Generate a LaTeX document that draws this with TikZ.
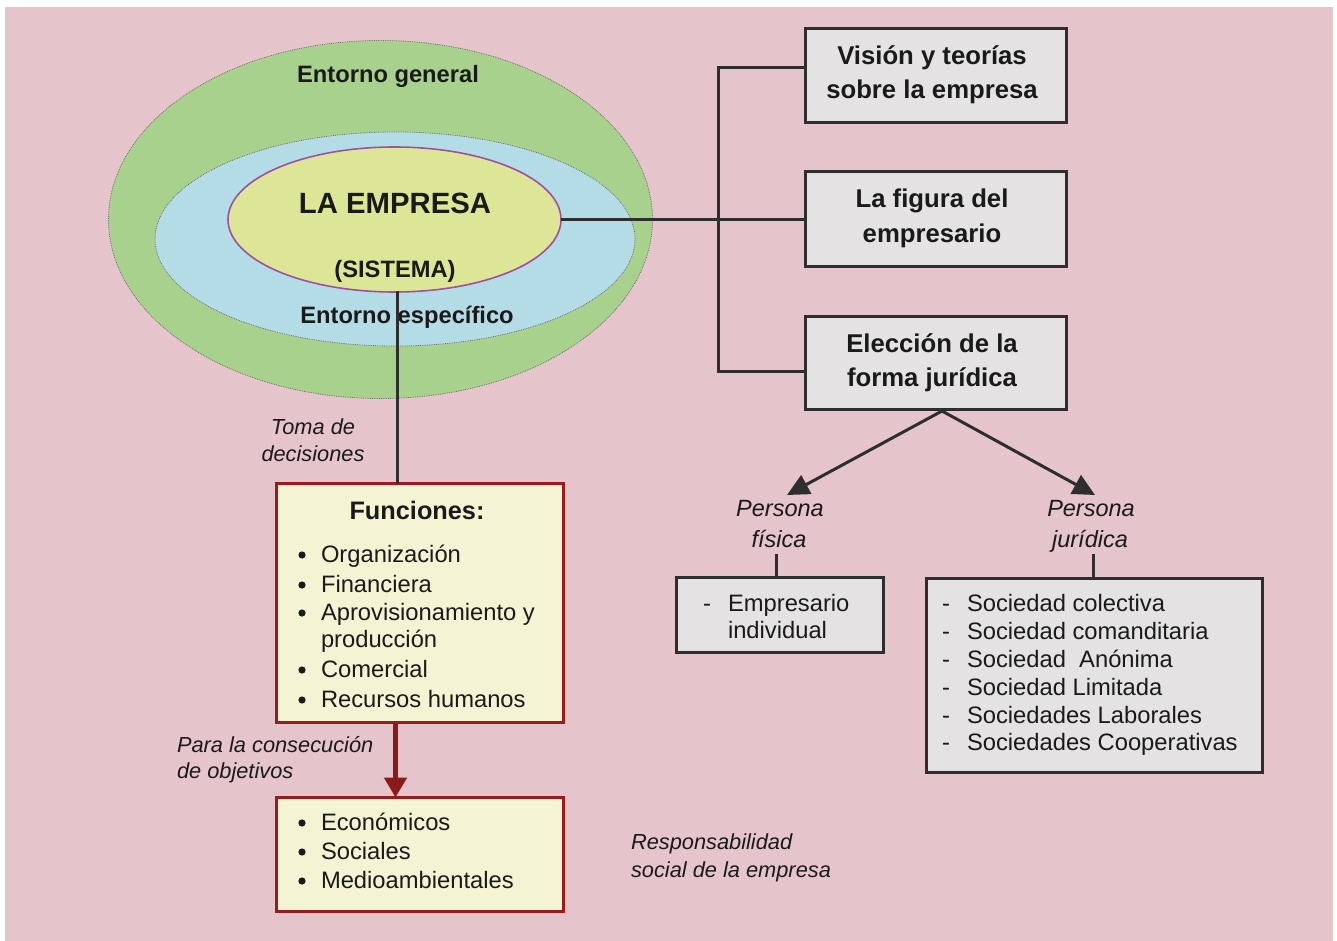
\documentclass[tikz,border=0pt]{standalone}
\usepackage{fontspec}
\setmainfont{Liberation Sans}
\usetikzlibrary{arrows.meta,shapes.geometric}
\definecolor{bgpink}{HTML}{E5C5CB}
\definecolor{envgreen}{HTML}{A9D18E}
\definecolor{envblue}{HTML}{B4DCE6}
\definecolor{empyellow}{HTML}{DDE697}
\definecolor{emppurple}{HTML}{A0509F}
\definecolor{boxgray}{HTML}{E4E2E2}
\definecolor{boxborder}{HTML}{2E2E2E}
\definecolor{boxyellow}{HTML}{F4F4D4}
\definecolor{redborder}{HTML}{9A1B1E}
\definecolor{redarrow}{HTML}{8B1A1A}
\definecolor{txt}{HTML}{1A1A1A}
\definecolor{dotline}{HTML}{6E6E6E}
\begin{document}
\begin{tikzpicture}[x=1pt,y=-1pt,
  every node/.style={inner sep=0pt,outer sep=0pt,text=txt},
  conn/.style={draw=boxborder,line width=3pt},
  graybox/.style={draw=boxborder,fill=boxgray,line width=3pt},
  yelbox/.style={draw=redborder,fill=boxyellow,line width=3pt},
  boxtitle/.style={font=\fontsize{25.7}{30}\selectfont\bfseries,anchor=base},
  envtxt/.style={font=\fontsize{23.7}{28}\selectfont\bfseries,anchor=base},
  listtxt/.style={font=\fontsize{23.75}{28}\selectfont,anchor=base west},
  bul/.style={font=\fontsize{23.75}{28}\selectfont,anchor=base},
  dot/.style={circle,fill=txt,minimum size=7.2pt},
  itl/.style={font=\fontsize{21.8}{26}\selectfont\itshape,anchor=base west},
  itc/.style={font=\fontsize{21.8}{26}\selectfont\itshape,anchor=base},
  pers/.style={font=\fontsize{23.5}{28}\selectfont\itshape,anchor=base},
  blackarrow/.style={draw=boxborder,line width=3pt,-{Triangle[length=22pt,width=21pt]}},
  redarr/.style={draw=redarrow,line width=5.5pt,-{Triangle[length=20pt,width=22pt]}}
]
\useasboundingbox (0,0) rectangle (1337,941);
\fill[white] (0,0) rectangle (1337,941);
\fill[bgpink] (5,7) rectangle (1333,941);

% environments
\draw[fill=envgreen,draw=dotline,densely dotted,line width=0.8pt] (380.5,219.5) ellipse [x radius=272pt,y radius=179pt];
\draw[fill=envblue,draw=dotline,densely dotted,line width=0.8pt] (395,239) ellipse [x radius=240pt,y radius=107pt];
\node[ellipse,minimum width=333pt,minimum height=145pt,fill=empyellow,draw=emppurple,line width=1.6pt] (emp) at (394.5,219.5) {};

\node[envtxt] (eg) at (388,83) {Entorno general};
\node[font=\fontsize{29.3}{34}\selectfont\bfseries,anchor=base] (la) at (395,214) {LA EMPRESA};
\node[envtxt] (sis) at (395,277) {(SISTEMA)};
\node[envtxt] (ee) at (407,323) {Entorno específico};

% right boxes
\node[graybox,minimum width=261pt,minimum height=94pt] (vision) at (936,75.5) {};
\node[graybox,minimum width=261pt,minimum height=95pt] (figura) at (936,219) {};
\node[graybox,minimum width=261pt,minimum height=93pt] (eleccion) at (936,363) {};
\node[boxtitle] (v1) at (932,65) {Visión y teorías};
\node[boxtitle] (v2) at (932,99) {sobre la empresa};
\node[boxtitle] (f1) at (932,208) {La figura del};
\node[boxtitle] (f2) at (932,242) {empresario};
\node[boxtitle] (e1) at (932,352) {Elección de la};
\node[boxtitle] (e2) at (932,386) {forma jurídica};

% connectors to right boxes
\coordinate (bt) at (718,68);
\coordinate (bb) at (718,371);
\draw[conn] (bt -| vision.west) -- (bt) -- (bb) -- (bb -| eleccion.west);
\draw[conn] (emp.east) -- (emp.east -| figura.west);

% persona
\coordinate (es) at (942,411);
\coordinate (pf) at (787,495);
\coordinate (pj) at (1095,495);
\draw[blackarrow] (es) -- (pf);
\draw[blackarrow] (es) -- (pj);
\node[pers] (pf1) at (780,516) {Persona};
\node[pers] (pf2) at (779,547) {física};
\node[pers] (pj1) at (1091,516) {Persona};
\node[pers] (pj2) at (1090,547) {jurídica};

\node[graybox,minimum width=207pt,minimum height=75pt] (empr) at (780,615) {};
\node[graybox,minimum width=336pt,minimum height=194pt] (soc) at (1094.5,675.5) {};
\coordinate (pfl) at (776,554);
\coordinate (pjl) at (1093,554);
\draw[conn] (pfl) -- (pfl |- empr.north);
\draw[conn] (pjl) -- (pjl |- soc.north);

\node[bul] (ed) at (707,611) {-};
\node[listtxt] (et1) at (728,611) {Empresario};
\node[listtxt] (et2) at (728,638) {individual};

\node[bul] (sd1) at (946,611) {-};
\node[bul] (sd2) at (946,639) {-};
\node[bul] (sd3) at (946,667) {-};
\node[bul] (sd4) at (946,695) {-};
\node[bul] (sd5) at (946,723) {-};
\node[bul] (sd6) at (946,750) {-};
\node[listtxt] (st1) at (967,611) {Sociedad colectiva};
\node[listtxt] (st2) at (967,639) {Sociedad comanditaria};
\node[listtxt] (st3) at (967,667) {Sociedad\ \ Anónima};
\node[listtxt] (st4) at (967,695) {Sociedad Limitada};
\node[listtxt] (st5) at (967,723) {Sociedades Laborales};
\node[listtxt] (st6) at (967,750) {Sociedades Cooperativas};

% funciones
\node[yelbox,minimum width=287pt,minimum height=239pt] (fun) at (420,603) {};
\node[yelbox,minimum width=287pt,minimum height=114pt] (obj) at (420,854.5) {};

\coordinate (d1) at (397,291);
\draw[conn] (d1) -- (d1 |- fun.north);

\node[font=\fontsize{25.3}{30}\selectfont\bfseries,anchor=base] (funt) at (417,519) {Funciones:};
\node[dot] (b1) at (302,555) {};
\node[dot] (b2) at (302,585) {};
\node[dot] (b3) at (302,613) {};
\node[dot] (b4) at (302,670) {};
\node[dot] (b5) at (302,700) {};
\node[listtxt] (ft1) at (321,562) {Organización};
\node[listtxt] (ft2) at (321,592) {Financiera};
\node[listtxt] (ft3) at (321,620) {Aprovisionamiento y};
\node[listtxt] (ft3b) at (321,647) {producción};
\node[listtxt] (ft4) at (321,677) {Comercial};
\node[listtxt] (ft5) at (321,707) {Recursos humanos};

\node[dot] (ob1) at (302,823) {};
\node[dot] (ob2) at (302,852) {};
\node[dot] (ob3) at (302,881) {};
\node[listtxt] (ot1) at (321,830) {Económicos};
\node[listtxt] (ot2) at (321,859) {Sociales};
\node[listtxt] (ot3) at (321,888) {Medioambientales};

\coordinate (r1) at (395.5,722.5);
\draw[redarr] (r1) -- (r1 |- obj.north);

% italic labels
\node[itc] (tm1) at (313,434) {Toma de};
\node[itc] (tm2) at (313,461) {decisiones};
\node[itl] (pc1) at (177,752) {Para la consecución};
\node[itl] (pc2) at (177,778) {de objetivos};
\node[itl] (rs1) at (631,849) {Responsabilidad};
\node[itl] (rs2) at (631,877) {social de la empresa};
\end{tikzpicture}
\end{document}
